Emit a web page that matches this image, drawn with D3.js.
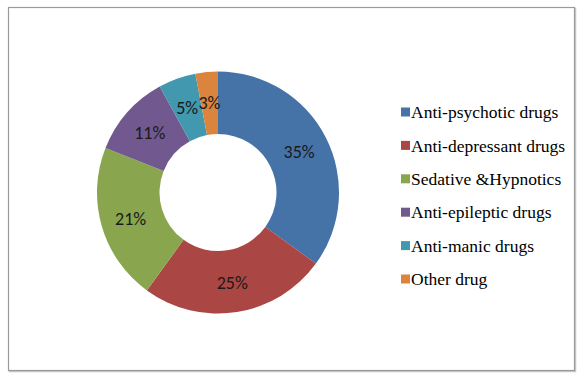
<!DOCTYPE html>
<html>
<head>
<meta charset="utf-8">
<script src="https://cdn.jsdelivr.net/npm/d3@7"></script>
<style>
  html, body { margin: 0; padding: 0; background: #fff; }
  svg { display: block; }
</style>
</head>
<body>
<svg id="chart" width="585" height="380"></svg>
<script>
// chart data
const categories = ['Anti-psychotic drugs', 'Anti-depressant drugs', 'Sedative &Hypnotics',
  'Anti-epileptic drugs', 'Anti-manic drugs', 'Other drug'];
const percents = [35, 25, 21, 11, 5, 3];
const colors = ['#4572A7', '#AA4643', '#89A54E', '#71588F', '#4198AF', '#DB843D'];

const width = 585, height = 380;
const svg = d3.select('#chart');

// frame with a soft shadow
svg.append('rect')
  .attr('x', 9.5).attr('y', 8.5)
  .attr('width', 566).attr('height', 363)
  .attr('fill', 'none')
  .attr('stroke', '#c8c8c8')
  .attr('stroke-width', 1.5);
svg.append('rect')
  .attr('x', 8.5).attr('y', 7.5)
  .attr('width', 566).attr('height', 363)
  .attr('fill', '#fff')
  .attr('stroke', '#9a9a9a')
  .attr('stroke-width', 1.2);

const cx = 218, cy = 192.5;
const outerR = 121, innerR = 58.5;

const g = svg.append('g')
  .attr('transform', `translate(${cx}, ${cy})`);

const data = categories.map((c, i) => ({ name: c, value: percents[i], color: colors[i] }));

const pie = d3.pie().sort(null).value(d => d.value);
const arc = d3.arc().innerRadius(innerR).outerRadius(outerR);
const labelArc = d3.arc()
  .innerRadius(91)
  .outerRadius(91);

const arcs = pie(data);

g.selectAll('path')
  .data(arcs)
  .enter()
  .append('path')
  .attr('d', arc)
  .attr('fill', d => d.data.color);

g.selectAll('text.pct')
  .data(arcs)
  .enter()
  .append('text')
  .attr('class', 'pct')
  .attr('transform', d => `translate(${labelArc.centroid(d)})`)
  .attr('text-anchor', 'middle')
  .attr('dy', '0.38em')
  .style('font-family', "'Carlito'")
  .style('font-size', '18px')
  .style('fill', '#1a1a1a')
  .text(d => d.data.value + '%');

// Legend
const legend = svg.append('g')
  .attr('transform', 'translate(401, 112)');

data.forEach((d, i) => {
  const row = legend.append('g')
    .attr('transform', `translate(0, ${i * 33.4})`);

  row.append('rect')
    .attr('x', 0).attr('y', -4.5)
    .attr('width', 9).attr('height', 9)
    .attr('fill', d.color);

  row.append('text')
    .attr('x', 10)
    .attr('dy', '0.35em')
    .style('font-family', "'Liberation Serif'")
    .style('font-size', '17.5px')
    .style('fill', '#000')
    .text(d.name);
});
</script>
</body>
</html>
